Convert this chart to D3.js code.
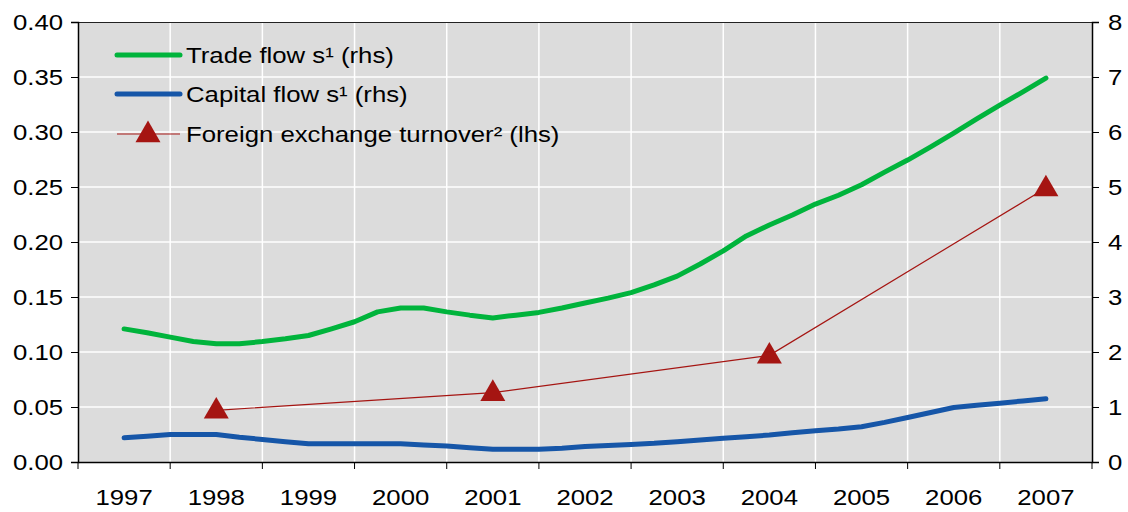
<!DOCTYPE html>
<html>
<head>
<meta charset="utf-8">
<script src="https://cdn.jsdelivr.net/npm/d3@7"></script>
<style>
  body { margin: 0; background: #fff; }
  text { font-family: "Liberation Sans", Arial, sans-serif; fill: #000; }
</style>
</head>
<body>
<div id="chart"></div>
<script>
// chart data
var years = ['1997', '1998', '1999', '2000', '2001', '2002', '2003', '2004', '2005', '2006', '2007'];

// quarterly, right-hand scale, first value at 1997
var tradeFlows = [2.42, 2.35, 2.27, 2.19, 2.15, 2.15, 2.19, 2.24, 2.30, 2.42,
                  2.55, 2.73, 2.80, 2.80, 2.73, 2.67, 2.62, 2.67, 2.72, 2.80,
                  2.89, 2.98, 3.08, 3.22, 3.38, 3.60, 3.84, 4.11, 4.31, 4.49,
                  4.69, 4.85, 5.04, 5.27, 5.49, 5.73, 5.98, 6.24, 6.49, 6.73, 6.98];
var capitalFlows = [0.44, 0.47, 0.50, 0.50, 0.50, 0.45, 0.41, 0.37, 0.33, 0.33,
                    0.33, 0.33, 0.33, 0.31, 0.29, 0.26, 0.23, 0.23, 0.23, 0.25,
                    0.28, 0.30, 0.32, 0.34, 0.37, 0.40, 0.43, 0.46, 0.49, 0.53,
                    0.57, 0.60, 0.64, 0.72, 0.81, 0.90, 0.99, 1.03, 1.07, 1.11, 1.15];

// left-hand scale
var fxYears = [1998, 2001, 2004, 2007];
var fxTurnover = [0.047, 0.063, 0.097, 0.249];

var leftTicks = [0, 0.05, 0.10, 0.15, 0.20, 0.25, 0.30, 0.35, 0.40];
var rightTicks = [0, 1, 2, 3, 4, 5, 6, 7, 8];

var legendItems = ['Trade flow s\u00b9 (rhs)', 'Capital flow s\u00b9 (rhs)', 'Foreign exchange turnover\u00b2 (lhs)'];

// page constants
var width = 1128;
var height = 512;
var plotLeft = 78;
var plotRight = 1092;
var plotTop = 22;
var plotBottom = 462;
var fontSize = '22px';
var textStretch = 1.17; // the source font is drawn a bit wider than Arial

var green = '#00b43c';
var blue = '#1656a8';
var red = '#a51512';

var svg = d3.select('#chart')
    .append('svg')
    .attr('width', width)
    .attr('height', height);

// scales
var xBand = d3.scaleBand().domain(years).range([plotLeft, plotRight]);
var xTime = d3.scaleLinear().domain([1996.5, 2007.5]).range([plotLeft, plotRight]);
var yLeft = d3.scaleLinear().domain([0, 0.40]).range([plotBottom, plotTop]);
var yRight = d3.scaleLinear().domain([0, 8]).range([plotBottom, plotTop]);

// plot background
svg.append('rect')
    .attr('x', plotLeft)
    .attr('y', plotTop)
    .attr('width', plotRight - plotLeft)
    .attr('height', plotBottom - plotTop)
    .attr('fill', '#dcdcdc');

// grid lines
svg.append('g')
    .selectAll('line')
    .data(leftTicks.slice(1))
    .enter()
    .append('line')
    .attr('x1', plotLeft)
    .attr('x2', plotRight)
    .attr('y1', d => yLeft(d))
    .attr('y2', d => yLeft(d))
    .attr('stroke', '#fff')
    .attr('stroke-width', 1.5);

svg.append('g')
    .selectAll('line')
    .data(years.slice(1))
    .enter()
    .append('line')
    .attr('x1', d => xBand(d))
    .attr('x2', d => xBand(d))
    .attr('y1', plotTop)
    .attr('y2', plotBottom)
    .attr('stroke', '#fff')
    .attr('stroke-width', 1.5);

// top border
svg.append('line')
    .attr('x1', plotLeft)
    .attr('x2', plotRight)
    .attr('y1', plotTop + 0.5)
    .attr('y2', plotTop + 0.5)
    .attr('stroke', '#222')
    .attr('stroke-width', 1);

// axes
var leftAxis = svg.append('g')
    .attr('transform', 'translate(' + plotLeft + ',0)')
    .call(d3.axisLeft(yLeft).tickValues(leftTicks).tickFormat(d3.format('.2f')).tickSizeOuter(0).tickSize(7).tickPadding(8));

var rightAxis = svg.append('g')
    .attr('transform', 'translate(' + plotRight + ',0)')
    .call(d3.axisRight(yRight).tickValues(rightTicks).tickFormat(d3.format('d')).tickSizeOuter(0).tickSize(7).tickPadding(9));

var bottomAxis = svg.append('g')
    .attr('transform', 'translate(0,' + plotBottom + ')')
    .call(d3.axisBottom(xBand).tickSize(0).tickPadding(27));

// ticks on the year boundaries
bottomAxis.selectAll('line.boundary')
    .data(years.concat(['end']))
    .enter()
    .append('line')
    .attr('class', 'boundary')
    .attr('x1', (d, i) => plotLeft + i * xBand.step())
    .attr('x2', (d, i) => plotLeft + i * xBand.step())
    .attr('y1', 0)
    .attr('y2', 7)
    .attr('stroke', '#000');

[leftAxis, rightAxis, bottomAxis].forEach(function(a) {
    a.selectAll('text')
        .style('font-family', '"Liberation Sans", Arial, sans-serif')
        .style('font-size', fontSize)
        .attr('fill', '#000');
    a.select('.domain').attr('stroke', '#000').attr('stroke-width', 1.5);
    a.selectAll('.tick line').attr('stroke', '#000');
});

// lines
var quarterLine = d3.line()
    .x((d, i) => xTime(1997 + i / 4))
    .y(d => yRight(d));

svg.append('path')
    .datum(tradeFlows)
    .attr('d', quarterLine)
    .attr('fill', 'none')
    .attr('stroke', green)
    .attr('stroke-width', 5)
    .attr('stroke-linejoin', 'round')
    .attr('stroke-linecap', 'round');

svg.append('path')
    .datum(capitalFlows)
    .attr('d', quarterLine)
    .attr('fill', 'none')
    .attr('stroke', blue)
    .attr('stroke-width', 5)
    .attr('stroke-linejoin', 'round')
    .attr('stroke-linecap', 'round');

var fxLine = d3.line()
    .x((d, i) => xTime(fxYears[i]))
    .y(d => yLeft(d));

svg.append('path')
    .datum(fxTurnover)
    .attr('d', fxLine)
    .attr('fill', 'none')
    .attr('stroke', red)
    .attr('stroke-width', 1.2);

var triangle = d3.symbol().type(d3.symbolTriangle).size(270);

svg.append('g')
    .selectAll('path')
    .data(fxTurnover)
    .enter()
    .append('path')
    .attr('d', triangle)
    .attr('transform', (d, i) => 'translate(' + xTime(fxYears[i]) + ',' + (yLeft(d) + 1) + ')')
    .attr('fill', red);

// legend
var legend = svg.append('g');
var legendY = [55, 94, 134];

legend.append('line')
    .attr('x1', 117).attr('x2', 180)
    .attr('y1', legendY[0]).attr('y2', legendY[0])
    .attr('stroke', green).attr('stroke-width', 5).attr('stroke-linecap', 'round');

legend.append('line')
    .attr('x1', 117).attr('x2', 180)
    .attr('y1', legendY[1]).attr('y2', legendY[1])
    .attr('stroke', blue).attr('stroke-width', 5).attr('stroke-linecap', 'round');

legend.append('line')
    .attr('x1', 117).attr('x2', 180)
    .attr('y1', legendY[2]).attr('y2', legendY[2])
    .attr('stroke', red).attr('stroke-width', 1.2);

legend.append('path')
    .attr('d', triangle)
    .attr('transform', 'translate(148,' + (legendY[2] + 1) + ')')
    .attr('fill', red);

legend.selectAll('text')
    .data(legendItems)
    .enter()
    .append('text')
    .attr('x', 186)
    .attr('y', (d, i) => legendY[i])
    .attr('dy', '0.35em')
    .style('font-size', fontSize)
    .text(d => d);

// widen all text a little to match the source lettering
svg.selectAll('text').each(function() {
    var len = this.getComputedTextLength();
    d3.select(this)
        .attr('textLength', len * textStretch)
        .attr('lengthAdjust', 'spacingAndGlyphs');
});
</script>
</body>
</html>
